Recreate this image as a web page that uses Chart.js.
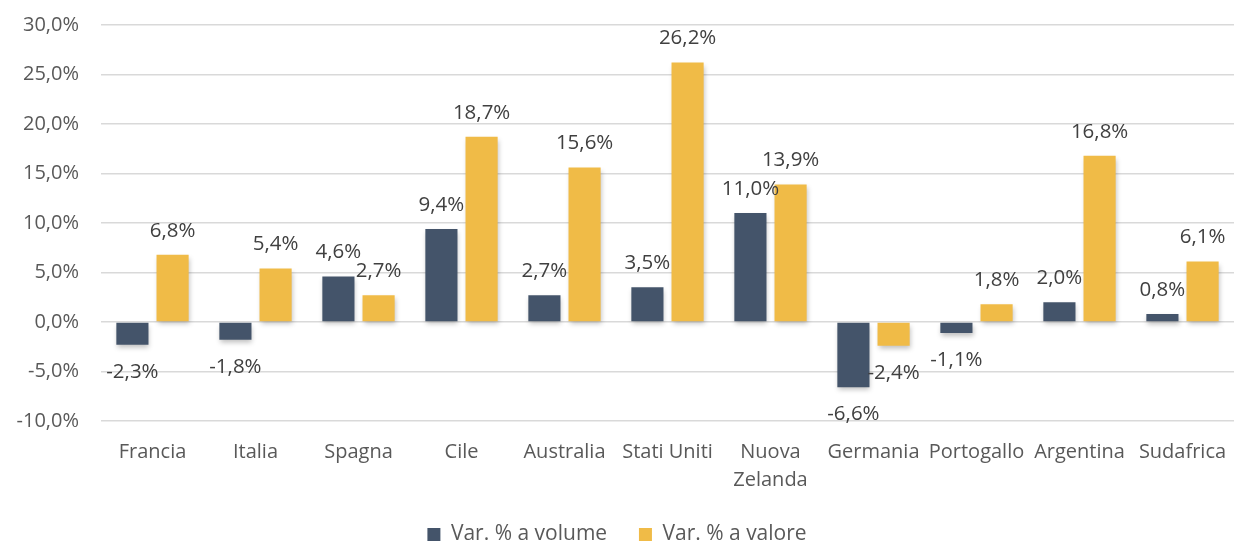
<!DOCTYPE html>
<html>
<head>
<meta charset="utf-8">
<script src="https://cdn.jsdelivr.net/npm/chart.js@4/dist/chart.umd.min.js"></script>
<style>
  html, body { margin: 0; padding: 0; background: #fff; }
  #wrap { width: 1234px; height: 543px; }
</style>
</head>
<body>
<div id="wrap"><canvas id="chart"></canvas></div>
<script>
// Data
const countries = ['Francia', 'Italia', 'Spagna', 'Cile', 'Australia', 'Stati Uniti', ['Nuova', 'Zelanda'], 'Germania', 'Portogallo', 'Argentina', 'Sudafrica'];
const volumeChange = [-2.3, -1.8, 4.6, 9.4, 2.7, 3.5, 11.0, -6.6, -1.1, 2.0, 0.8];
const valueChange = [6.8, 5.4, 2.7, 18.7, 15.6, 26.2, 13.9, -2.4, 1.8, 16.8, 6.1];
const seriesNames = ['Var. % a volume', 'Var. % a valore'];

const FONT = "'Open Sans', sans-serif";
const TEXT = '#595959';

function pct(v) {
  return v.toFixed(1).replace('.', ',') + '%';
}

// soft drop shadow under the bars, like the original office chart
const barShadow = {
  id: 'barShadow',
  beforeDatasetsDraw(chart) {
    const ctx = chart.ctx;
    ctx.save();
    ctx.shadowColor = 'rgba(0,0,0,0.25)';
    ctx.shadowBlur = 5;
    ctx.shadowOffsetX = 1;
    ctx.shadowOffsetY = 3;
  },
  afterDatasetsDraw(chart) {
    chart.ctx.restore();
  },
};

// value labels outside the end of each bar
const valueLabels = {
  id: 'valueLabels',
  afterDatasetsDraw(chart) {
    const ctx = chart.ctx;
    ctx.save();
    ctx.font = `20.5px ${FONT}`;
    ctx.fillStyle = '#404040';
    ctx.textAlign = 'center';
    ctx.textBaseline = 'middle';
    chart.data.datasets.forEach((ds, i) => {
      chart.getDatasetMeta(i).data.forEach((bar, j) => {
        const v = ds.data[j];
        const y = v >= 0 ? bar.y - 24 : bar.y + 27;
        ctx.fillText(pct(v), bar.x, y);
      });
    });
    ctx.restore();
  },
};

new Chart(document.getElementById('chart'), {
  type: 'bar',
  data: {
    labels: countries,
    datasets: [
      { label: seriesNames[0], data: volumeChange, backgroundColor: '#44546A' },
      { label: seriesNames[1], data: valueChange, backgroundColor: '#F0BB47' },
    ],
  },
  options: {
    responsive: true,
    maintainAspectRatio: false,
    animation: false,
    categoryPercentage: 0.78,
    barPercentage: 0.8,
    layout: { padding: { top: 25, right: 0, left: 0, bottom: -12 } },
    plugins: {
      tooltip: { enabled: false },
      legend: {
        position: 'bottom',
        labels: {
          color: TEXT,
          font: { family: FONT, size: 21 },
          boxWidth: 13,
          boxHeight: 13,
          padding: 10,
          // wider gap between the two entries, as in the original
          generateLabels(chart) {
            const items = Chart.defaults.plugins.legend.labels.generateLabels(chart);
            items[0].text += '\u00A0\u00A0\u00A0\u00A0';
            return items;
          },
        },
      },
    },
    scales: {
      x: {
        grid: { display: false },
        border: { display: false },
        afterFit(scale) {
          scale.paddingLeft = 0;
          scale.paddingRight = 0;
          scale.height = 93;
        },
        ticks: {
          color: TEXT,
          font: { family: FONT, size: 20, lineHeight: 1.4 },
          maxRotation: 0,
          autoSkip: false,
          padding: 9,
        },
      },
      y: {
        min: -10,
        max: 30,
        grid: { color: '#D9D9D9', lineWidth: 1.5, drawTicks: false },
        border: { display: false },
        afterFit(scale) {
          scale.width = 101;
          scale.paddingTop = 0;
          scale.paddingBottom = 0;
        },
        ticks: {
          stepSize: 5,
          color: TEXT,
          font: { family: FONT, size: 20 },
          padding: 22,
          callback: (v) => pct(v),
        },
      },
    },
  },
  plugins: [barShadow, valueLabels],
});
</script>
</body>
</html>
